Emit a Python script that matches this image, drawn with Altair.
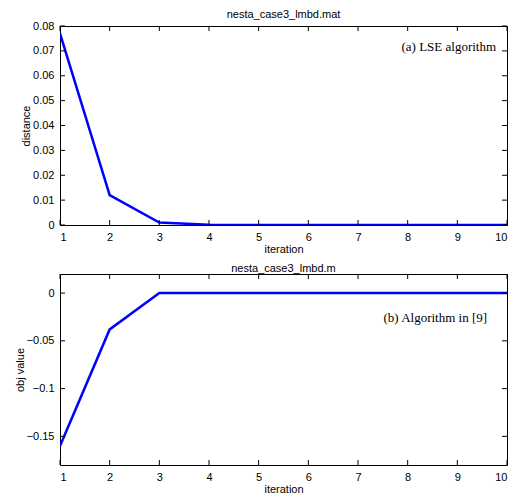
import altair as alt
import pandas as pd

iterations = [1, 2, 3, 4, 5, 6, 7, 8, 9, 10]
distance = [0.0770, 0.0120, 0.0010, 0.0001, 0, 0, 0, 0, 0, 0]
obj_value = [-0.160, -0.038, 0.0, 0.0, 0, 0, 0, 0, 0, 0]
x_ticks = [1, 2, 3, 4, 5, 6, 7, 8, 9, 10]
top_y_ticks = [0, 0.01, 0.02, 0.03, 0.04, 0.05, 0.06, 0.07, 0.08]
bot_y_ticks = [-0.15, -0.1, -0.05, 0]
top_title = "nesta_case3_lmbd.mat"
bot_title = "nesta_case3_lmbd.m"
top_note = "(a) LSE algorithm"
bot_note = "(b) Algorithm in [9]"

W = 447
H1 = 199
H2 = 191
TL = 5
SANS = "Liberation Sans"


def panel(values, ytitle, domain, yticks, title, note, note_x, note_y, h):
    df = pd.DataFrame({"iteration": iterations, "v": values})
    xs = alt.Scale(domain=[1, 10], nice=False, zero=False)
    ys = alt.Scale(domain=domain, nice=False, zero=False)
    xa = alt.Axis(values=x_ticks, title="iteration", format="d")
    ya = alt.Axis(values=yticks, title=ytitle, format="~g")
    line = alt.Chart(df).mark_line(color="#0000ff", strokeWidth=2.5, clip=True).encode(
        x=alt.X("iteration:Q", scale=xs, axis=xa),
        y=alt.Y("v:Q", scale=ys, axis=ya),
    )
    xt = pd.DataFrame({"t": x_ticks})
    yt = pd.DataFrame({"t": yticks})
    tick_style = dict(color="black", strokeWidth=1)
    xb = alt.Chart(xt).mark_rule(**tick_style).encode(
        x=alt.X("t:Q", scale=xs, axis=xa), y=alt.value(h), y2=alt.value(h - TL))
    xtop = alt.Chart(xt).mark_rule(**tick_style).encode(
        x=alt.X("t:Q", scale=xs, axis=xa), y=alt.value(0), y2=alt.value(TL))
    yl = alt.Chart(yt).mark_rule(**tick_style).encode(
        y=alt.Y("t:Q", scale=ys, axis=ya), x=alt.value(0), x2=alt.value(TL))
    yr = alt.Chart(yt).mark_rule(**tick_style).encode(
        y=alt.Y("t:Q", scale=ys, axis=ya), x=alt.value(W), x2=alt.value(W - TL))
    nd = pd.DataFrame({"x": [note_x], "y": [note_y], "label": [note]})
    txt = alt.Chart(nd).mark_text(
        font="Liberation Serif", fontSize=13, align="right", baseline="middle", color="black"
    ).encode(
        x=alt.X("x:Q", scale=xs, axis=xa),
        y=alt.Y("y:Q", scale=ys, axis=ya),
        text="label:N",
    )
    return alt.layer(line, xb, xtop, yl, yr, txt).properties(
        width=W, height=h,
        title=alt.TitleParams(title, font=SANS, fontSize=11, fontWeight="normal",
                              color="black", offset=0),
    )


top = panel(distance, "distance", [0, 0.08], top_y_ticks, top_title, top_note, 9.78, 0.0716, H1)
bot = panel(obj_value, "obj value", [-0.18, 0.02], bot_y_ticks, bot_title, bot_note, 9.6, -0.026, H2)

chart = alt.vconcat(top, bot, spacing=7).properties(
    background="white",
    padding={"left": 5, "top": 0, "right": 5, "bottom": 0},
).configure_view(
    stroke="black", strokeWidth=1
).configure_axis(
    domain=False, ticks=False, grid=False,
    labelFont=SANS, labelFontSize=11, labelColor="black", labelPadding=6,
    titleFont=SANS, titleFontSize=11, titleFontWeight="normal", titleColor="black",
    titlePadding=1,
)

chart.save("out.html", embed_options={"renderer": "svg", "actions": False})
